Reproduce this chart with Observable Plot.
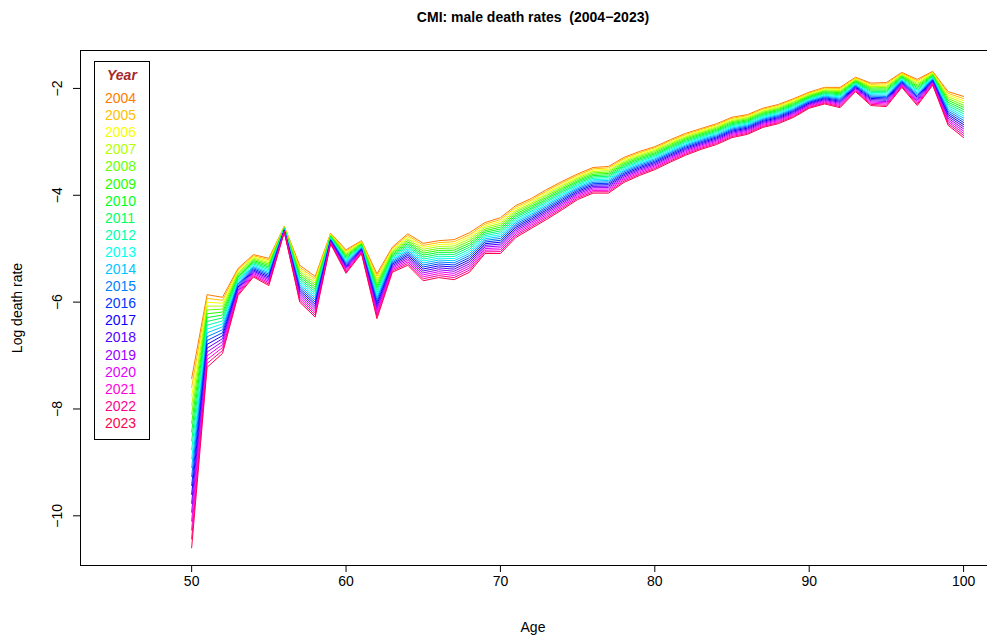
<!DOCTYPE html>
<html><head><meta charset="utf-8">
<script src="https://cdn.jsdelivr.net/npm/d3@7"></script>
<script src="https://cdn.jsdelivr.net/npm/@observablehq/plot@0.6"></script>
<style>
body{margin:0;background:#fff;font-family:"Liberation Sans",Arial,sans-serif;}
#wrap{position:relative;width:987px;height:637px;}
#legend{position:absolute;left:94px;top:61px;width:56px;height:379px;border:1px solid #000;box-sizing:border-box;font-size:14px;}
#legend div{position:absolute;left:10px;line-height:17px;}
</style></head><body>
<div id="wrap"></div>
<script>
const ages = d3.range(50, 101);
const years = d3.range(2004, 2024);
// log death rate for the first (2004) and last (2023) year
const rate2004 = [-7.43,-5.86,-5.91,-5.37,-5.11,-5.18,-4.58,-5.31,-5.52,-4.71,-5.02,-4.85,-5.47,-4.97,-4.72,-4.9,-4.85,-4.83,-4.7,-4.51,-4.42,-4.19,-4.06,-3.89,-3.74,-3.6,-3.48,-3.46,-3.29,-3.18,-3.09,-2.96,-2.84,-2.75,-2.66,-2.54,-2.49,-2.37,-2.3,-2.19,-2.07,-1.98,-1.98,-1.79,-1.9,-1.89,-1.7,-1.83,-1.68,-2.06,-2.15];
const rate2023 = [-10.6,-7.22,-6.96,-5.88,-5.53,-5.69,-4.69,-6.0,-6.28,-4.91,-5.46,-5.09,-6.31,-5.44,-5.31,-5.6,-5.54,-5.58,-5.44,-5.09,-5.09,-4.79,-4.62,-4.45,-4.27,-4.08,-3.96,-3.96,-3.76,-3.63,-3.52,-3.38,-3.25,-3.14,-3.05,-2.92,-2.86,-2.73,-2.66,-2.54,-2.37,-2.29,-2.36,-2.06,-2.32,-2.34,-1.98,-2.32,-1.94,-2.69,-2.92];
const xTicks = [50,60,70,80,90,100];
const yTicks = [-10,-8,-6,-4,-2];

const color = y => d3.hsl(((0.08 + (y-2004)/19*0.87) % 1)*360, 1, 0.5).formatHex();
const rows = [];
years.forEach((yr,k) => {
  const f = k/19;
  ages.forEach((a,i) => rows.push({year:yr, age:a, rate: rate2004[i] + f*(rate2023[i]-rate2004[i])}));
});

const plot = Plot.plot({
  width:987, height:637,
  marginLeft:80, marginRight:0, marginTop:50, marginBottom:72,
  style:{fontFamily:"Liberation Sans, Arial, sans-serif", fontSize:"14px", color:"#000"},
  x:{domain:[42.8,101.55], ticks:xTicks, label:null},
  y:{domain:[-10.93,-1.29], ticks:yTicks, label:null, tickFormat:d=>String(d).replace("-","\u2212")},
  marks:[
    Plot.frame({stroke:"#000"}),
    Plot.axisX({ticks:xTicks, tickSize:7, tickPadding:4, fontSize:14, anchor:"bottom"}),
    Plot.axisY({ticks:yTicks, tickSize:7, tickRotate:-90, tickPadding:12, fontSize:14, anchor:"left", tickFormat:d=>String(d).replace("-","\u2212")}),
    Plot.line(rows, {x:"age", y:"rate", z:"year", stroke:d=>color(d.year), strokeWidth:1})
  ]
});
const wrap = document.getElementById("wrap");
wrap.appendChild(plot);
const svg = d3.select(plot);
svg.append("text").attr("x",533).attr("y",22).attr("text-anchor","middle").attr("font-weight","bold").attr("font-size",14).text("CMI: male death rates  (2004\u22122023)");
svg.append("text").attr("x",533).attr("y",632).attr("text-anchor","middle").attr("font-size",14).text("Age");
svg.append("text").attr("transform","translate(22,308) rotate(-90)").attr("text-anchor","middle").attr("font-size",14).text("Log death rate");

const lg = document.createElement("div"); lg.id="legend";
let h = `<div style="top:5px;left:12px;color:#A52A2A;font-weight:bold;font-style:italic">Year</div>`;
years.forEach((y,k)=>{ h += `<div style="top:${28+k*17.1}px;color:${color(y)}">${y}</div>`; });
lg.innerHTML = h; wrap.appendChild(lg);
</script></body></html>
